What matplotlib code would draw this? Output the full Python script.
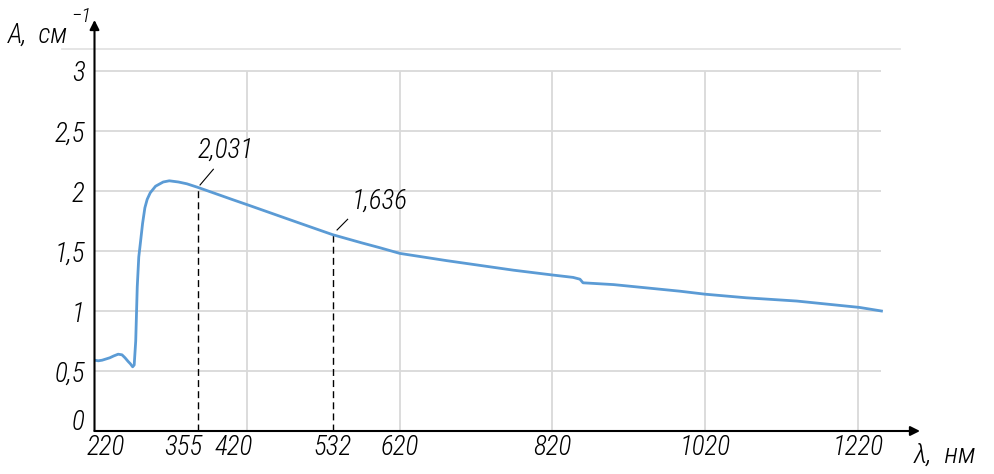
import matplotlib
matplotlib.use("Agg")
import matplotlib.pyplot as plt
import matplotlib.transforms as mtransforms

# ---- data ----
wavelength = [220, 225, 230, 235, 240, 245, 251, 256, 260, 264, 267, 270, 272, 274,
              276, 278, 280, 283, 286, 289, 293, 300, 310, 318, 330, 341, 355, 380, 400,
              420, 470, 500, 532, 570, 594, 620, 681, 769, 820, 847, 856, 860, 900, 987,
              1020, 1074, 1140, 1222, 1251]
absorbance = [0.59, 0.585, 0.59, 0.60, 0.61, 0.625, 0.64, 0.635, 0.61, 0.58, 0.56, 0.535,
              0.55, 0.75, 1.20, 1.45, 1.56, 1.73, 1.86, 1.93, 1.985, 2.04, 2.075, 2.085,
              2.075, 2.06, 2.031, 1.975, 1.93, 1.886, 1.774, 1.707, 1.636, 1.568, 1.527,
              1.48, 1.42, 1.34, 1.30, 1.28, 1.265, 1.235, 1.22, 1.165, 1.14, 1.11, 1.083,
              1.03, 1.00]

marked_wl = [355, 532]
marked_val = [2.031, 1.636]
marked_text = ["2,031", "1,636"]

x_ticks = [220, 355, 420, 532, 620, 820, 1020, 1220]
x_grid = [420, 620, 820, 1020, 1220]
y_ticks = [0, 0.5, 1, 1.5, 2, 2.5, 3]
y_labels = ["0", "0,5", "1", "1,5", "2", "2,5", "3"]

# ---- style ----
FONT = ['Roboto Condensed', 'DejaVu Sans']
FS = 19.5
plt.rcParams['font.family'] = FONT
plt.rcParams['font.style'] = 'italic'
plt.rcParams['font.weight'] = 'light'

# per-label leader/text offsets in pixels (start, end, text-left/center)
leader_style = [((2.5, 2.3), (15.8, 18.0), (0.5, 37.3)),
                ((4.4, 4.7), (15.0, 15.4), (19.4, 33.7))]

W, H = 995, 474
fig = plt.figure(figsize=(W / 100, H / 100), dpi=100)
x0, x1, yb, yt = 94.5, 920, 431, 20
ax = fig.add_axes([x0 / W, (H - yb) / H, (x1 - x0) / W, (yb - yt) / H])
ax.set_xlim(220, 220 + (x1 - x0) / 0.7633)
ax.set_ylim(0, (yb - yt) / 120)
for s in ax.spines.values():
    s.set_visible(False)

grid_c = '#d9d9d9'
ax.hlines(y_ticks[1:], 220, 1251, colors=grid_c, lw=1.3, zorder=1)
ax.vlines(x_grid, 0, 3, colors=grid_c, lw=1.3, zorder=1)
ax.plot([177, 1275], [3.18, 3.18], color='#e3e3e3', lw=1.3, clip_on=False, zorder=1)

ax.plot(wavelength, absorbance, color='#5b9bd5', lw=2.0, zorder=3)

for wl, v, t, (p0, p1, pt) in zip(marked_wl, marked_val, marked_text, leader_style):
    ax.plot([wl, wl], [0, v], color='black', lw=1.0, ls=(0, (5, 3)), zorder=2)
    base = ax.transData.transform((wl, v))
    a = ax.transData.inverted().transform((base[0] + p0[0], base[1] + p0[1]))
    b = ax.transData.inverted().transform((base[0] + p1[0], base[1] + p1[1]))
    ax.plot([a[0], b[0]], [a[1], b[1]], color='black', lw=0.8, zorder=2)
    ax.annotate(t, xy=(wl, v), xytext=pt, textcoords='offset pixels',
                fontsize=FS, ha='left', va='center', color='black')

ax.annotate('', xy=(1, 0), xytext=(0, 0), xycoords='axes fraction',
            arrowprops=dict(arrowstyle='-|>', lw=1.5, color='black', mutation_scale=14,
                            shrinkA=0, shrinkB=0))
ax.annotate('', xy=(0, 1), xytext=(0, 0), xycoords='axes fraction',
            arrowprops=dict(arrowstyle='-|>', lw=1.5, color='black', mutation_scale=14,
                            shrinkA=0, shrinkB=0))

ax.set_xticks(x_ticks)
ax.set_xticklabels([str(v) for v in x_ticks], fontsize=FS)
ax.set_yticks(y_ticks)
ax.set_yticklabels(y_labels, fontsize=FS)
ax.tick_params(axis='x', length=0, pad=2)
ax.tick_params(axis='y', length=0, pad=7)

x_shift = {220: 11, 355: -14, 420: -13}
for lab, v in zip(ax.get_xticklabels(), x_ticks):
    dx = x_shift.get(v, 0)
    if dx:
        lab.set_transform(lab.get_transform() + mtransforms.ScaledTranslation(dx / 100, 0, fig.dpi_scale_trans))
for lab, v in zip(ax.get_yticklabels(), y_ticks):
    if v == 0:
        lab.set_transform(lab.get_transform() + mtransforms.ScaledTranslation(0, 12 / 100, fig.dpi_scale_trans))

fig.text(8 / W, 1 - 35 / H, "A,  см", fontsize=FS, ha='left', va='center')
fig.text(71 / W, 1 - 17 / H, "−1", fontsize=15, ha='left', va='center')
fig.text(914 / W, 1 - 455 / H, "λ,  нм", fontsize=FS + 1, ha='left', va='center')

fig.savefig("out.png", dpi=100)
